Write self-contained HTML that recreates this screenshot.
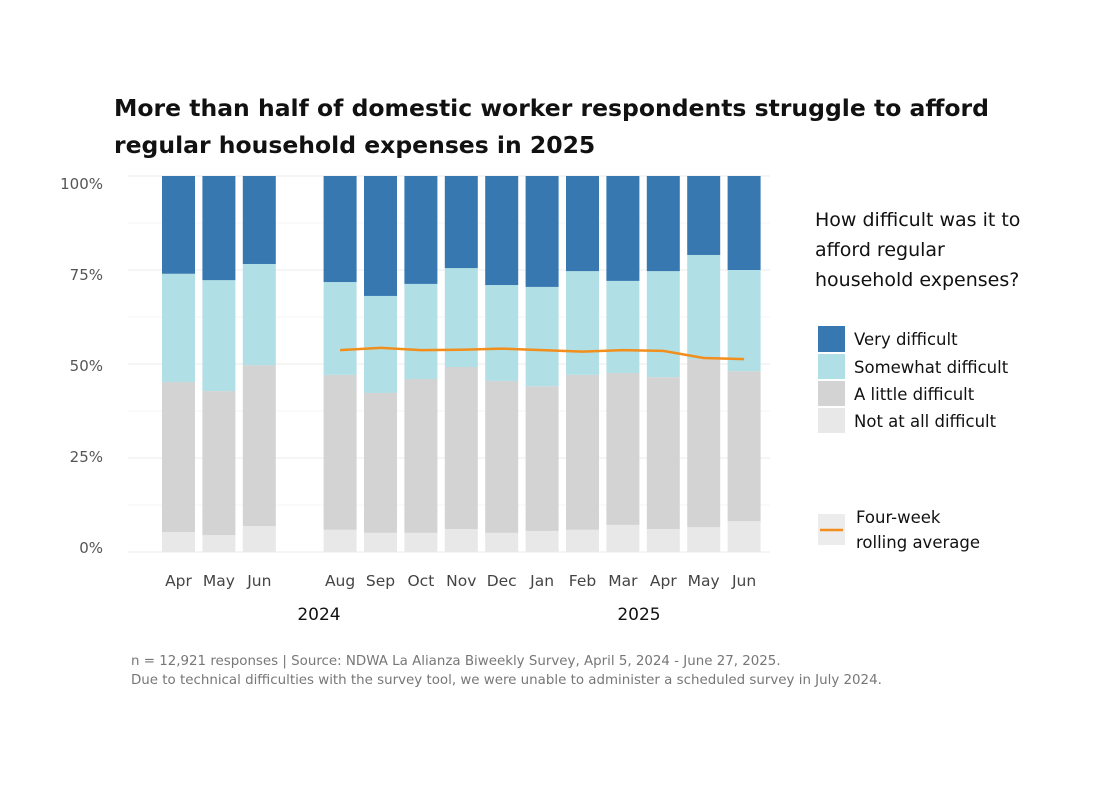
<!DOCTYPE html>
<html><head><meta charset="utf-8"><style>
body{margin:0;background:#fff;font-family:"DejaVu Sans",sans-serif;}
</style></head><body>
<svg id="chart" width="1100" height="800" xmlns="http://www.w3.org/2000/svg" font-family="DejaVu Sans, sans-serif">
<text x="114" y="116" font-size="23.5" font-weight="bold" fill="#111">More than half of domestic worker respondents struggle to afford</text>
<text x="114" y="153" font-size="23.5" font-weight="bold" fill="#111">regular household expenses in 2025</text>
<g id="grid"></g><g id="bars"></g><g id="line"></g><g id="axes"></g>
<g font-size="16.5" fill="#111">
<text x="815" y="226" font-size="19">How difficult was it to</text>
<text x="815" y="256" font-size="19">afford regular</text>
<text x="815" y="286" font-size="19">household expenses?</text>
<rect x="818" y="326" width="27" height="26" fill="#3778b0"/>
<text x="854" y="345">Very difficult</text>
<rect x="818" y="354" width="27" height="25" fill="#b0dfe5"/>
<text x="854" y="373">Somewhat difficult</text>
<rect x="818" y="381" width="27" height="25" fill="#d3d3d3"/>
<text x="854" y="400">A little difficult</text>
<rect x="818" y="408" width="27" height="25" fill="#e8e8e8"/>
<text x="854" y="427">Not at all difficult</text>
<rect x="818" y="514" width="27" height="31" fill="#ececec"/>
<line x1="820" y1="530" x2="843" y2="530" stroke="#f28e1c" stroke-width="2.5"/>
<text x="856" y="523">Four-week</text>
<text x="856" y="548">rolling average</text>
</g>
<text x="131" y="665" font-size="13.4" fill="#777">n =  12,921 responses | Source: NDWA La Alianza Biweekly Survey, April 5, 2024 - June 27, 2025.</text>
<text x="131" y="684" font-size="13.4" fill="#777">Due to technical difficulties with the survey tool, we were unable to administer a scheduled survey in July 2024.</text>
</svg>
<script>
const months=["Apr","May","Jun","Aug","Sep","Oct","Nov","Dec","Jan","Feb","Mar","Apr","May","Jun"];
const slots=[0,1,2,4,5,6,7,8,9,10,11,12,13,14];
const notAtAll=[5.3,4.5,6.9,5.9,5.1,5.1,6.1,5.1,5.6,5.9,7.2,6.1,6.6,8.2];
const aLittle=[39.9,38.3,42.8,41.2,37.2,40.9,43.1,40.4,38.5,41.2,40.4,40.4,44.7,39.9];
const somewhat=[28.8,29.5,26.9,24.7,25.8,25.3,26.3,25.5,26.4,27.6,24.5,28.2,27.7,26.9];
const rolling=[null,null,null,53.7,54.3,53.7,53.8,54.1,53.7,53.3,53.7,53.5,51.6,51.3];
const yTicks=[0,25,50,75,100];
const yLabels=["0%","25%","50%","75%","100%"];
const NS="http://www.w3.org/2000/svg";
const y=v=>552-v*3.76;
const x=s=>162+s*40.4; const bw=33;
function mk(t,a,p){const e=document.createElementNS(NS,t);for(const k in a)e.setAttribute(k,a[k]);document.getElementById(p).appendChild(e);return e;}
for(let v=0;v<=100;v+=12.5){const g=mk("line",{x1:128,x2:770,y1:y(v),y2:y(v),stroke:v%25?"#f6f6f6":"#ebebeb","stroke-width":1},"grid");

}
yTicks.forEach((v,i)=>{const c=184+(y(v)-176)*0.968;const t=mk("text",{x:103,y:c+5,"text-anchor":"end","font-size":15,fill:"#555"},"axes");t.textContent=yLabels[i];

});
const cols=["#e8e8e8","#d3d3d3","#b0dfe5","#3778b0"];
months.forEach((m,i)=>{const segs=[notAtAll[i],aLittle[i],somewhat[i],100-notAtAll[i]-aLittle[i]-somewhat[i]];let base=0;
segs.forEach((s,j)=>{const r=mk("rect",{x:x(slots[i]),y:y(base+s),width:bw,height:s*3.76,fill:cols[j]},"bars");

base+=s;});
const t=mk("text",{x:x(slots[i])+bw/2,y:586,"text-anchor":"middle","font-size":15.5,fill:"#444"},"axes");t.textContent=m;

});
let d="";rolling.forEach((v,i)=>{if(v==null)return;d+=(d?"L":"M")+(x(slots[i])+bw/2)+","+y(v);});
const pl=mk("path",{d:d,fill:"none",stroke:"#f28e1c","stroke-width":2.5},"line");


[["2024",319],["2025",639]].forEach(a=>{const t=mk("text",{x:a[1],y:620,"text-anchor":"middle","font-size":17,fill:"#111"},"axes");t.textContent=a[0];

});
</script>
</body></html>
